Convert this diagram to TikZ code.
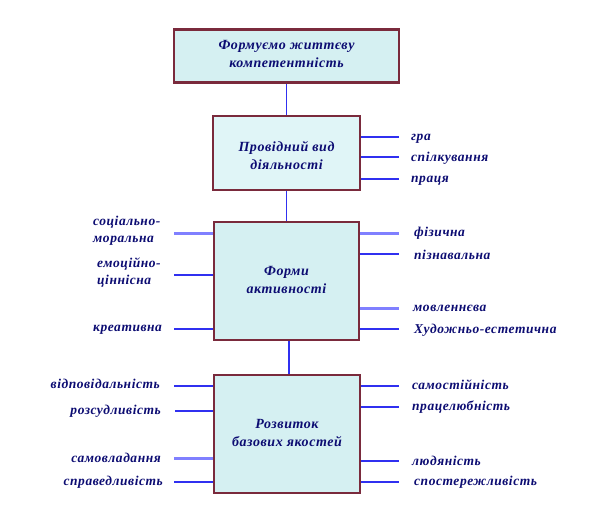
\documentclass[tikz,border=0pt]{standalone}
\usepackage{fontspec}
\setmainfont{Liberation Serif}[LetterSpace=4]
\usetikzlibrary{calc}
\definecolor{boxfill}{HTML}{D5F0F2}
\definecolor{boxfillb}{HTML}{E0F5F7}
\definecolor{boxline}{HTML}{7A2A3C}
\definecolor{linkblue}{HTML}{3030F0}
\definecolor{linkthick}{HTML}{8080FF}
\definecolor{txt}{HTML}{0C0C72}
\tikzset{
  mainbox/.style={draw=boxline, line width=2.7pt, fill=boxfill, inner sep=0pt, align=center,
    font=\fontsize{14}{18}\selectfont\bfseries\itshape, text=txt},
  boxtext/.style={inner sep=0pt, align=center, font=\fontsize{14}{17.5}\selectfont\bfseries\itshape, text=txt},
  lbl/.style={inner sep=0pt, font=\fontsize{13.5}{17}\selectfont\bfseries\itshape, text=txt, align=left},
  link/.style={draw=linkblue, line width=1.1pt},
  thicklink/.style={draw=linkthick, line width=3pt},
}
\begin{document}
\begin{tikzpicture}[x=1pt,y=-1pt]
\useasboundingbox (0,0) rectangle (601,529);
% boxes
\node[mainbox, minimum width=225pt, minimum height=53pt,
  label={[boxtext,yshift=2pt]center:{Формуємо життєву\\компетентність}}] (b1) at (286.5,56) {};
\node[mainbox, fill=boxfillb, minimum width=147pt, minimum height=74pt,
  label={[boxtext,yshift=-2.5pt]center:{Провідний вид\\діяльності}}] (b2) at (286.5,153) {};
\node[mainbox, minimum width=145pt, minimum height=118pt,
  label={[boxtext,yshift=1pt]center:{Форми\\активності}}] (b3) at (286.5,281) {};
\node[mainbox, minimum width=146pt, minimum height=118pt,
  label={[boxtext,yshift=1pt]center:{Розвиток\\базових якостей}}] (b4) at (287,434) {};
% vertical connectors
\draw[link] (b1.south) -- (b2.north);
\draw[link] (b2.south) -- (b3.north);
\draw[link] ($(b3.south)+(2.5,0)$) coordinate (c3) -- (c3 |- b4.north);
% right labels of b2
\node[lbl, anchor=west] (r21) at (411,138.5) {гра};
\node[lbl, anchor=west] (r22) at (411,158.5) {спілкування};
\node[lbl, anchor=west] (r23) at (411,180.5) {праця};
\coordinate (e21) at (399,137); \draw[link] (b2.east |- e21) -- (e21);
\coordinate (e22) at (399,157); \draw[link] (b2.east |- e22) -- (e22);
\coordinate (e23) at (399,179); \draw[link] (b2.east |- e23) -- (e23);
% b3 left
\node[lbl, anchor=north west] (l31) at (93,215.5) {соціально-\\моральна};
\node[lbl, anchor=north west] (l32) at (97,257.5) {емоційно-\\ціннісна};
\node[lbl, anchor=west] (l33) at (93,329.5) {креативна};
\coordinate (e31) at (174,233); \draw[thicklink] (e31) -- (e31 -| b3.west);
\coordinate (e32) at (174,275); \draw[link] (e32) -- (e32 -| b3.west);
\coordinate (e33) at (174,329); \draw[link] (e33) -- (e33 -| b3.west);
% b3 right
\node[lbl, anchor=west] (r31) at (414,233) {фізична};
\node[lbl, anchor=west] (r32) at (414,255) {пізнавальна};
\node[lbl, anchor=west] (r33) at (413,308.5) {мовленнєва};
\node[lbl, anchor=west] (r34) at (414,330) {Художньо-естетична};
\coordinate (f31) at (399,233); \draw[thicklink] (b3.east |- f31) -- (f31);
\coordinate (f32) at (399,254); \draw[link] (b3.east |- f32) -- (f32);
\coordinate (f33) at (399,308); \draw[thicklink] (b3.east |- f33) -- (f33);
\coordinate (f34) at (399,329); \draw[link] (b3.east |- f34) -- (f34);
% b4 left
\node[lbl, anchor=east] (l41) at (160,384) {відповідальність};
\node[lbl, anchor=east] (l42) at (161,411) {розсудливість};
\node[lbl, anchor=east] (l43) at (161,457.5) {самовладання};
\node[lbl, anchor=east] (l44) at (163,482) {справедливість};
\coordinate (e41) at (174,386); \draw[link] (e41) -- (e41 -| b4.west);
\coordinate (e42) at (175,411); \draw[link] (e42) -- (e42 -| b4.west);
\coordinate (e43) at (174,458); \draw[thicklink] (e43) -- (e43 -| b4.west);
\coordinate (e44) at (174,482); \draw[link] (e44) -- (e44 -| b4.west);
% b4 right
\node[lbl, anchor=west] (r41) at (412,384.5) {самостійність};
\node[lbl, anchor=west] (r42) at (412,407.5) {працелюбність};
\node[lbl, anchor=west] (r43) at (412,460.5) {людяність};
\node[lbl, anchor=west] (r44) at (414,482.5) {спостережливість};
\coordinate (f41) at (399,386); \draw[link] (b4.east |- f41) -- (f41);
\coordinate (f42) at (399,407); \draw[link] (b4.east |- f42) -- (f42);
\coordinate (f43) at (399,461); \draw[link] (b4.east |- f43) -- (f43);
\coordinate (f44) at (399,482); \draw[link] (b4.east |- f44) -- (f44);
\end{tikzpicture}
\end{document}
